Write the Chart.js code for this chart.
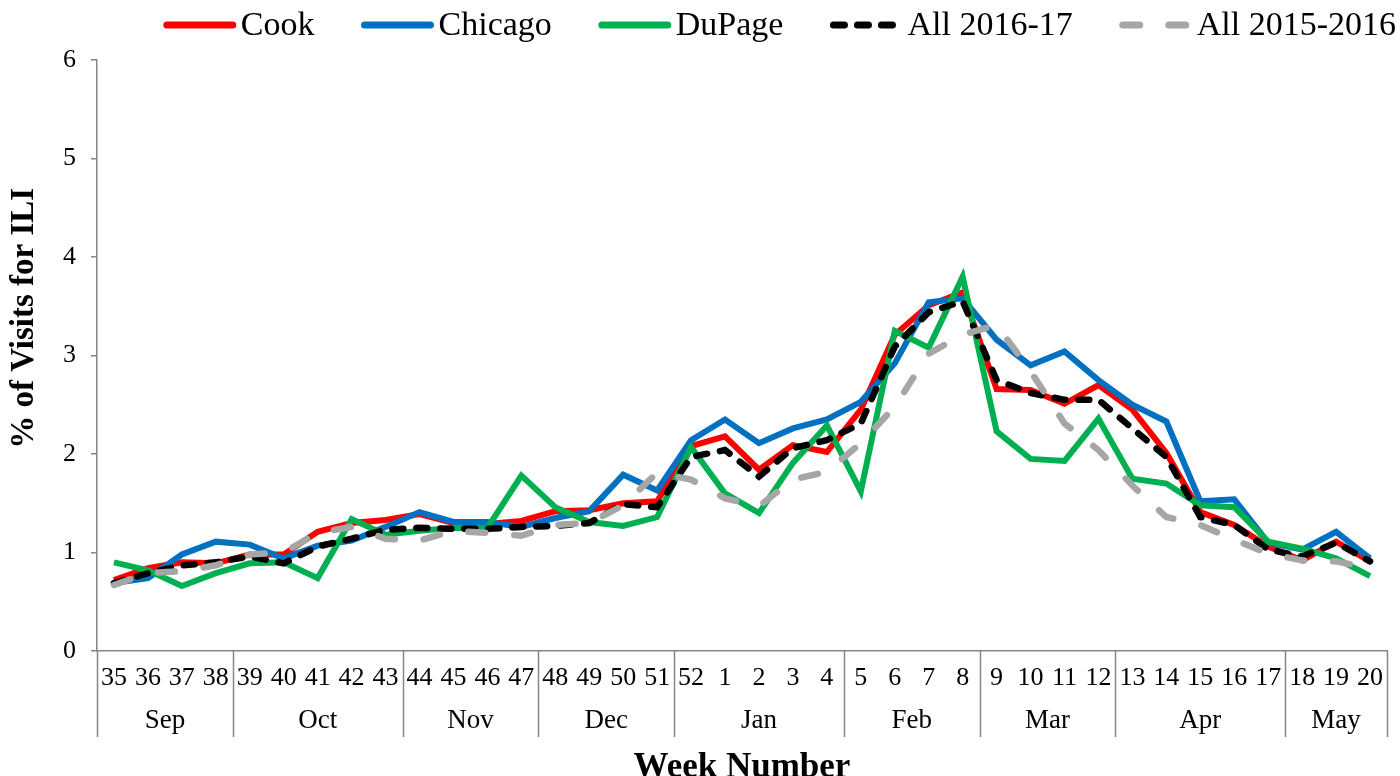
<!DOCTYPE html>
<html>
<head>
<meta charset="utf-8">
<title>% of Visits for ILI by week</title>
<script src="https://cdn.jsdelivr.net/npm/chart.js@4.4.1/dist/chart.umd.min.js"></script>
<style>
    html, body { margin: 0; padding: 0; background: #fff; }
    #wrap { width: 1400px; height: 776px; }
</style>
</head>
<body>
<div id="wrap"><canvas id="ili-chart" width="1400" height="776"></canvas></div>
<script>
const weeks = ['35', '36', '37', '38', '39', '40', '41', '42', '43', '44', '45', '46', '47',
    '48', '49', '50', '51', '52', '1', '2', '3', '4', '5', '6', '7', '8', '9', '10',
    '11', '12', '13', '14', '15', '16', '17', '18', '19', '20'];
const months = ['Sep', 'Oct', 'Nov', 'Dec', 'Jan', 'Feb', 'Mar', 'Apr', 'May'];
const monthWeekCounts = [4, 5, 4, 4, 5, 4, 4, 5, 3];
const yTicks = [0, 1, 2, 3, 4, 5, 6];

const cook = [0.72, 0.84, 0.90, 0.89, 0.98, 0.98, 1.21, 1.30, 1.33, 1.39, 1.30, 1.29, 1.32,
    1.42, 1.43, 1.50, 1.52, 2.08, 2.18, 1.84, 2.09, 2.02, 2.45, 3.21, 3.51, 3.64, 2.66,
    2.65, 2.51, 2.70, 2.45, 2.01, 1.41, 1.28, 1.06, 0.92, 1.11, 0.91];
const chicago = [0.69, 0.74, 0.98, 1.11, 1.08, 0.94, 1.07, 1.12, 1.26, 1.41, 1.31, 1.31, 1.26,
    1.35, 1.42, 1.79, 1.63, 2.14, 2.35, 2.11, 2.26, 2.35, 2.53, 2.92, 3.54, 3.58, 3.16,
    2.90, 3.04, 2.75, 2.50, 2.33, 1.52, 1.54, 1.10, 1.03, 1.21, 0.94];
const dupage = [0.90, 0.82, 0.66, 0.79, 0.89, 0.90, 0.74, 1.34, 1.18, 1.22, 1.25, 1.25, 1.78,
    1.46, 1.31, 1.27, 1.36, 2.07, 1.60, 1.40, 1.91, 2.29, 1.62, 3.25, 3.08, 3.80, 2.23,
    1.95, 1.93, 2.36, 1.75, 1.70, 1.48, 1.46, 1.11, 1.04, 0.94, 0.76];
const all1617 = [0.69, 0.79, 0.87, 0.90, 0.96, 0.89, 1.06, 1.14, 1.23, 1.25, 1.24, 1.24, 1.26,
    1.27, 1.30, 1.49, 1.46, 1.97, 2.04, 1.77, 2.06, 2.14, 2.31, 3.09, 3.44, 3.55, 2.75,
    2.62, 2.55, 2.55, 2.26, 1.97, 1.36, 1.28, 1.03, 0.96, 1.10, 0.91];
const all1516 = [0.67, 0.79, 0.81, 0.87, 0.98, 1.00, 1.20, 1.26, 1.14, 1.12, 1.22, 1.20, 1.17,
    1.28, 1.30, 1.48, 1.81, 1.74, 1.55, 1.47, 1.74, 1.82, 2.11, 2.48, 3.02, 3.21, 3.31,
    2.84, 2.31, 2.04, 1.68, 1.36, 1.28, 1.13, 0.99, 0.92, 0.91, 0.84];

const serif = "'Liberation Serif', 'Times New Roman', serif";
const axisGrey = '#868686';

// legend drawn by hand so the gaps match the original
const legendLine = {
    id: 'legendLine',
    afterDraw(chart) {
        const ctx = chart.ctx;
        const sample = 72, gap = 5, spacing = 47, y = 25;
        const sets = chart.data.datasets;
        ctx.save();
        ctx.font = '34px ' + serif;
        ctx.textBaseline = 'middle';
        let total = 0;
        sets.forEach((ds, i) => {
            total += sample + gap + ctx.measureText(ds.label).width;
            if (i < sets.length - 1) total += spacing;
        });
        let x = chart.width - 4 - total;
        sets.forEach(ds => {
            ctx.beginPath();
            ctx.strokeStyle = ds.borderColor;
            ctx.lineWidth = 7;
            ctx.lineCap = 'round';
            ctx.setLineDash(ds.borderDash || []);
            ctx.moveTo(x + 3, y);
            ctx.lineTo(x + sample - 3, y);
            ctx.stroke();
            ctx.setLineDash([]);
            ctx.fillStyle = '#000';
            ctx.fillText(ds.label, x + sample + gap, y + 1);
            x += sample + gap + ctx.measureText(ds.label).width + spacing;
        });
        ctx.restore();
    }
};

// y title sits a bit above the middle of the axis in the original
const yTitle = {
    id: 'yTitle',
    afterDraw(chart) {
        const area = chart.chartArea;
        const ctx = chart.ctx;
        ctx.save();
        ctx.translate(24, area.top + (area.bottom - area.top) * 0.437);
        ctx.rotate(-Math.PI / 2);
        ctx.font = 'bold 33px ' + serif;
        ctx.fillStyle = '#000';
        ctx.textAlign = 'center';
        ctx.textBaseline = 'middle';
        ctx.fillText('% of Visits for ILI', 0, 0);
        ctx.restore();
    }
};

// second row of the x axis: month names with divider lines
const monthRow = {
    id: 'monthRow',
    afterDraw(chart) {
        const xs = chart.scales.x;
        const area = chart.chartArea;
        const ctx = chart.ctx;
        const half = (xs.getPixelForValue(1) - xs.getPixelForValue(0)) / 2;
        const bottom = area.bottom + 86;
        ctx.save();
        ctx.strokeStyle = axisGrey;
        ctx.lineWidth = 1.5;
        ctx.fillStyle = '#000';
        ctx.font = '27px ' + serif;
        ctx.textAlign = 'center';
        ctx.textBaseline = 'middle';
        let first = 0;
        months.forEach((m, i) => {
            const last = first + monthWeekCounts[i] - 1;
            const edge = Math.round(xs.getPixelForValue(first) - half) + 0.5;
            ctx.beginPath();
            ctx.moveTo(edge, area.bottom);
            ctx.lineTo(edge, bottom);
            ctx.stroke();
            const mid = (xs.getPixelForValue(first) + xs.getPixelForValue(last)) / 2;
            ctx.fillText(m, mid, area.bottom + 70);
            first = last + 1;
        });
        const end = Math.round(xs.getPixelForValue(weeks.length - 1) + half) + 0.5;
        ctx.beginPath();
        ctx.moveTo(end, area.bottom);
        ctx.lineTo(end, bottom);
        ctx.stroke();
        ctx.restore();
    }
};

function series(label, data, color, dash, order) {
    return {
        label: label,
        data: data,
        borderColor: color,
        backgroundColor: color,
        borderWidth: dash ? 6.5 : 6,
        borderDash: dash || [],
        borderCapStyle: dash ? 'round' : 'butt',
        pointRadius: 0,
        tension: 0,
        order: order
    };
}

const ctx = document.getElementById('ili-chart').getContext('2d');
new Chart(ctx, {
    type: 'line',
    data: {
        labels: weeks,
        datasets: [
            series('Cook', cook, '#FF0000', null, 4),
            series('Chicago', chicago, '#0070C0', null, 3),
            series('DuPage', dupage, '#00B050', null, 2),
            series('All 2016-17', all1617, '#000000', [11, 13], 1),
            series('All 2015-2016', all1516, '#A6A6A6', [17, 29], 0)
        ]
    },
    options: {
        responsive: false,
        animation: false,
        devicePixelRatio: 1,
        layout: { padding: { top: 60, right: 13, left: 0, bottom: 0 } },
        plugins: {
            legend: { display: false },
            tooltip: { enabled: false }
        },
        scales: {
            x: {
                type: 'category',
                offset: true,
                grid: { display: true, drawOnChartArea: false, drawTicks: false, color: 'transparent' },
                border: { display: true, color: axisGrey, width: 1.5 },
                ticks: {
                    autoSkip: false,
                    maxRotation: 0,
                    padding: 12,
                    color: '#000',
                    font: { family: serif, size: 26 }
                },
                title: {
                    display: true,
                    text: 'Week Number',
                    color: '#000',
                    font: { family: serif, size: 35, weight: 'bold', lineHeight: 0.45 },
                    padding: 0
                },
                afterFit(scale) { scale.height = 125; }
            },
            y: {
                min: yTicks[0],
                max: yTicks[yTicks.length - 1],
                afterBuildTicks(scale) { scale.ticks = yTicks.map(v => ({ value: v })); },
                grid: { drawOnChartArea: false, drawTicks: true, tickLength: 6, color: axisGrey, lineWidth: 1.5 },
                border: { display: true, color: axisGrey, width: 1.5 },
                ticks: {
                    padding: 15,
                    color: '#000',
                    font: { family: serif, size: 26 }
                },
                title: { display: false },
                afterFit(scale) { scale.width = 97; }
            }
        }
    },
    plugins: [legendLine, yTitle, monthRow]
});
</script>
</body>
</html>
